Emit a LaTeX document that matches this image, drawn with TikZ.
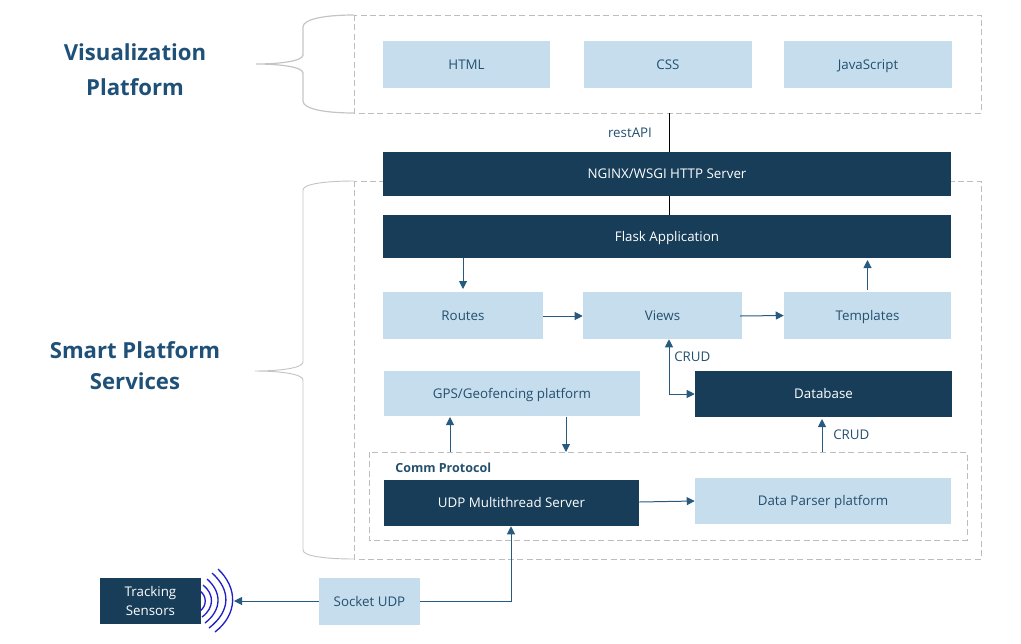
\documentclass[tikz,border=0pt]{standalone}
\usepackage{fontspec}
\setmainfont{Open Sans}
\usetikzlibrary{arrows.meta}
\definecolor{darkbox}{HTML}{173D58}
\definecolor{lightbox}{HTML}{C5DDED}
\definecolor{inktext}{HTML}{23506F}
\definecolor{headtext}{HTML}{1F5078}
\definecolor{linecol}{HTML}{275A7E}
\definecolor{dashcol}{HTML}{BDBDBD}
\definecolor{bracecol}{HTML}{C4C4C4}
\definecolor{wavecol}{HTML}{2020C8}
\tikzset{
 x=0.75pt,y=-0.75pt,
 lbox/.style={fill=lightbox,text=inktext,font=\fontsize{10}{14}\selectfont,align=center,inner sep=0pt,text height=8.5pt,text depth=1.5pt},
 dbox/.style={fill=darkbox,text=white,font=\fontsize{10}{14}\selectfont,align=center,inner sep=0pt,text height=8.5pt,text depth=1.5pt},
 twoline/.style={fill=darkbox,text=white,font=\fontsize{10}{14}\selectfont,align=center,inner sep=0pt},
 dashbox/.style={draw=dashcol,dash pattern=on 4.5pt off 2.5pt,line width=0.6pt},
 arr/.style={draw=linecol,line width=0.75pt,-{Triangle[length=6pt,width=6pt]}},
 plain/.style={draw=black,line width=0.6pt},
 lab/.style={text=inktext,font=\fontsize{10}{12}\selectfont,inner sep=0pt},
 head/.style={text=headtext,font=\fontsize{16.6}{20}\bfseries\selectfont,inner sep=0pt},
 brace/.style={draw=bracecol,line width=0.9pt},
 wave/.style={draw=wavecol,line width=1pt},
}
\newcommand{\pbox}[7]{%
 \pgfmathsetmacro{\pw}{(#5-#3)*0.75}\pgfmathsetmacro{\ph}{(#6-#4)*0.75}%
 \node[#2,minimum width=\pw pt,minimum height=\ph pt] (#1) at ({(#3+#5)/2},{(#4+#6)/2}) {#7};}
\begin{document}
\begin{tikzpicture}
\useasboundingbox (0,0) rectangle (1021,643);
% dashed containers
\draw[dashbox] (354,15) rectangle (981,113);
\draw[dashbox] (354,181) rectangle (981,559);
\draw[dashbox] (369,452) rectangle (967,540);
% braces
\draw[brace] (354,15) .. controls (325,15) and (303,19) .. (303,27) -- (303,55) .. controls (303,61) and (280,64) .. (256,64) .. controls (280,64) and (303,67) .. (303,73) -- (303,101) .. controls (303,109) and (325,113) .. (354,113);
\draw[brace,line width=0.7pt] (354,181) .. controls (325,181) and (303,184) .. (303,190) -- (303,362) .. controls (303,368) and (280,371) .. (255,371) .. controls (280,371) and (303,374) .. (303,380) -- (303,550) .. controls (303,556) and (325,559) .. (354,559);
% headings
\node[head] (h1) at (135,52) {Visualization};
\node[head] (h2) at (135,87) {Platform};
\node[head] (h3) at (135,350) {Smart Platform};
\node[head] (h4) at (135,381) {Services};
% boxes
\pbox{html}{lbox}{383}{41}{550}{88}{HTML}
\pbox{css}{lbox}{584}{41}{752}{88}{CSS}
\pbox{js}{lbox}{784}{41}{952}{88}{JavaScript}
\pbox{nginx}{dbox}{383}{152}{951}{196}{NGINX/WSGI HTTP Server}
\pbox{flask}{dbox}{383}{215}{951}{258}{Flask Application}
\pbox{routes}{lbox}{383}{292}{543}{339}{Routes}
\pbox{views}{lbox}{583}{292}{742}{339}{Views}
\pbox{templates}{lbox}{784}{292}{951}{339}{Templates}
\pbox{gps}{lbox}{384}{371}{640}{416}{GPS/Geofencing platform}
\pbox{db}{dbox}{695}{371}{952}{417}{Database}
\pbox{udp}{dbox}{384}{480}{639}{526}{UDP Multithread Server}
\pbox{parser}{lbox}{695}{478}{951}{524}{Data Parser platform}
\pbox{socket}{lbox}{319}{578}{420}{625}{Socket UDP}
\pbox{sensors}{twoline}{100}{578}{201}{624}{Tracking\\Sensors}
\node[lab,font=\fontsize{9.4}{11}\bfseries\selectfont,anchor=west] (comm) at (395,467.5) {Comm Protocol};
\node[lab] (rest) at (630,133) {restAPI};
\node[lab,anchor=west] (crud1) at (674,357) {CRUD};
\node[lab,anchor=west] (crud2) at (833,434.5) {CRUD};
% free-end coordinates
\coordinate (vizbot) at (669,113);
\coordinate (commtopa) at (450,452);
\coordinate (commtop1) at (566,452);
\coordinate (commtop2) at (822,452);
\coordinate (waveend) at (234,601);
\coordinate (dbelbow) at (669,394);
\coordinate (socketelbow) at (511,601);
% connectors
\draw[plain] (vizbot) -- (vizbot |- nginx.north);
\draw[plain] (vizbot |- nginx.south) -- (vizbot |- flask.north);
\draw[arr] (463,258) -- (463,289);
\draw[arr] (867.5,290) -- (867.5,260);
\draw[arr] (routes.east |- 0,316) -- (views.west |- 0,316);
\draw[arr] (740,316) -- (templates.west |- 0,315.5);
\draw[arr] (dbelbow) -- (dbelbow |- views.south);
\draw[arr] (dbelbow) -- (dbelbow -| db.west);
\draw[arr] (commtopa) -- (450,417);
\draw[arr] (566,417) -- (commtop1);
\draw[arr] (commtop2) -- (822,419);
\draw[arr] (udp.east |- 0,502) -- (parser.west |- 0,501);
\draw[arr] (socket.west |- waveend) -- (waveend);
\draw[arr] (socket.east |- socketelbow) -- (socketelbow) -- (socketelbow |- udp.south);
% sensor waves
\draw[wave] (200,591) .. controls (207,596) and (207,606) .. (200,611);
\draw[wave] (203,585) .. controls (214.5,594) and (214.5,608) .. (202,617);
\draw[wave] (207,579) .. controls (222,592) and (222,610) .. (205,623);
\draw[wave] (212,573) .. controls (231,590) and (231,611) .. (209,628);
\draw[wave] (218,569) .. controls (238,588) and (238,614) .. (215,632);
\end{tikzpicture}
\end{document}
